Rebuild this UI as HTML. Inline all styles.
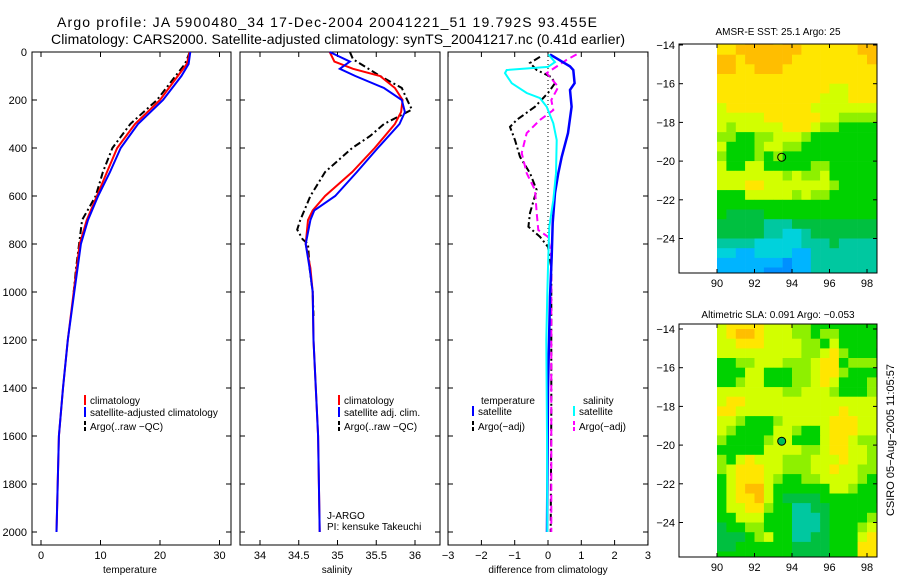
<!DOCTYPE html>
<html><head><meta charset="utf-8"><style>
body{margin:0;background:#fff}
svg{display:block;font-family:"Liberation Sans",sans-serif}
</style></head><body>
<svg id="s" width="900" height="580" xmlns="http://www.w3.org/2000/svg">
<text x="57" y="27" font-size="14" textLength="540">Argo profile: JA 5900480_34 17-Dec-2004 20041221_51 19.792S 93.455E</text>
<text x="51" y="44" font-size="14" textLength="574">Climatology: CARS2000. Satellite-adjusted climatology: synTS_20041217.nc (0.41d earlier)</text>
<text x="130" y="573" font-size="10" text-anchor="middle">temperature</text>
<text x="337" y="573" font-size="10" text-anchor="middle">salinity</text>
<text x="548" y="573" font-size="10" text-anchor="middle">difference from climatology</text>
<text x="327" y="519" font-size="10">J-ARGO</text>
<text x="327" y="530" font-size="10">PI: kensuke Takeuchi</text>
<text x="778" y="35" font-size="10" text-anchor="middle">AMSR-E SST: 25.1 Argo: 25</text>
<text x="778" y="318" font-size="10" text-anchor="middle">Altimetric SLA: 0.091 Argo: −0.053</text>
<text transform="translate(894,440) rotate(-90)" font-size="11" text-anchor="middle">CSIRO 05−Aug−2005 11:05:57</text>
</svg>
<script>
// ---- data ----
const tDepth=[0,50,100,200,300,400,500,600,700,800,1000,1200,1400,1600,1800,2000];
const tClim=[25.0,24.5,23.0,20.0,15.8,12.8,11.1,9.4,7.7,6.5,5.5,4.5,3.7,3.0,2.8,2.6];
const tSat=[25.1,24.8,23.6,20.5,16.3,13.4,11.6,9.6,7.9,6.7,5.6,4.5,3.7,3.0,2.8,2.6];
const aDepth=[0,50,100,200,300,400,500,600,700,800,900,1000];
const tArgo=[25.0,24.2,22.6,19.5,15.0,12.0,10.4,9.2,6.9,6.4,5.9,5.5];
const sDepth=[0,40,70,100,150,200,250,300,400,500,600,660,700,800,900,1000,1200,1400,1600,1800,2000];
const sClim=[34.9,34.96,35.2,35.55,35.74,35.84,35.82,35.74,35.48,35.19,34.84,34.68,34.62,34.59,34.65,34.68,34.69,34.72,34.75,34.76,34.77];
const sSat=[34.9,35.16,35.03,35.23,35.6,35.83,35.87,35.8,35.52,35.25,34.97,34.7,34.65,34.59,34.64,34.68,34.69,34.72,34.75,34.76,34.77];
const saDepth=[0,30,100,150,200,240,300,350,400,500,600,700,740,780,800,900,1000,1100];
const sArgo=[35.16,35.2,35.55,35.83,35.9,35.96,35.6,35.42,35.19,34.84,34.65,34.52,34.48,34.55,34.62,34.64,34.68,34.69];
const dDepth=[10,60,75,130,158,228,338,437,505,588,712,853,1020,1400,2000];
const dTempSat=[0.06,0.66,0.76,0.8,0.66,0.71,0.6,0.41,0.31,0.21,0.14,0.11,0.06,0.0,-0.03];
const dcDepth=[10,42,62,75,88,130,171,192,228,297,367,505,617,728,853,1005,1200,1600,2000];
const dSalSat=[0.01,0.21,0.0,-1.24,-1.29,-1.09,-0.64,-0.24,-0.04,0.16,0.26,0.24,0.16,0.04,0.01,-0.02,-0.05,-0.03,-0.02];
const dmDepth=[10,33,88,146,200,242,283,338,421,505,575,671,742,770,853,1020,1500,2000];
const dSalArgo=[0.86,0.56,-0.04,0.31,0.1,0.16,-0.24,-0.64,-0.79,-0.64,-0.39,-0.34,-0.29,0.0,0.1,0.1,0.1,0.1];
const dkDepth=[20,46,75,104,130,171,228,283,312,367,437,505,575,671,728,770,812,900,1500,2000];
const dTempArgo=[-0.24,-0.54,-0.34,0.1,0.21,0.0,-0.39,-0.94,-1.14,-0.99,-0.84,-0.54,-0.34,-0.54,-0.59,-0.24,0.0,0.1,0.1,0.08];
const depthTicks=[0,200,400,600,800,1000,1200,1400,1600,1800,2000];
const tTicks=[0,10,20,30];
const sTicks=[34,34.5,35,35.5,36];
const dTicks=[-3,-2,-1,0,1,2,3];
const sstGrid=["888999898888999999","889999999888888999","998999998888888899","998899988888888888","888888888888888888","888888888888778888","888888888887778888","788888888877777777","777778888887766666","767777788876655555","665566777655555555","755567766555555555","655565655555555555","755775555566555555","777777767667555555","777887777777655555","555777776766555555","555555555555555555","544445555555555554","444443334444444444","444443322344444444","333322222333433333","221122221133333333","111111101133333333","111110001133333333"];
const slaGrid=["788887776655555555","789987776656655555","778887777665755556","777777777667865555","556677766678856665","555775556678865556","556775556678755566","777777766777655567","788777777777777777","887777777777787777","776555677777888777","765555776557888777","655556775557887666","555557777667887766","657877766677787766","678887766677877666","578887655667777655","578997555555776555","578897544445555555","577886553344555556","557775553334555567","455665553334555678","444567553344555789","445555554444555889","555555554444555889"];
const lonTicks=[90,92,94,96,98];
const latTicks=[-14,-16,-18,-20,-22,-24];
const floatLon=93.45, floatLat=-19.8;

// ---- drawing ----
const svg=document.getElementById('s');
const NS='http://www.w3.org/2000/svg';
function mk(tag,at,parent){const e=document.createElementNS(NS,tag);for(const k in at)e.setAttribute(k,at[k]);(parent||svg).appendChild(e);return e;}
const Y0=52, YS=0.24, PB=545;
const yD=d=>Y0+d*YS;
const panels=[
 {name:'temperature',x0:32,x1:231,xs:v=>41+v*5.95,ticks:tTicks,lab:v=>String(v),ylab:true},
 {name:'salinity',x0:240,x1:440,xs:v=>260+(v-34)*77.5,ticks:sTicks,lab:v=>String(v),ylab:false},
 {name:'difference',x0:448,x1:648,xs:v=>548+v*33.3,ticks:dTicks,lab:v=>v<0?'−'+(-v):String(v),ylab:false}
];
panels.forEach(p=>{
 const g=mk('g',{});
 
 
 p.g=g;
 p.ticks.forEach(v=>{const x=p.xs(v);
  const t1=mk('line',{x1:x,x2:x,y1:PB,y2:PB-5,stroke:'#000'},g);
  
  mk('line',{x1:x,x2:x,y1:Y0,y2:Y0+5,stroke:'#000'},g);
  const t=mk('text',{x:x,y:PB+14,'font-size':11,'text-anchor':'middle'},g);t.textContent=p.lab(v);
  });
 depthTicks.forEach(d=>{const y=yD(d);
  mk('line',{x1:p.x0,x2:p.x0+5,y1:y,y2:y,stroke:'#000'},g);
  mk('line',{x1:p.x1,x2:p.x1-5,y1:y,y2:y,stroke:'#000'},g);
  if(p.ylab){const t=mk('text',{x:p.x0-5,y:y+4,'font-size':11,'text-anchor':'end'},g);t.textContent=d;
   }});
 const f=mk('rect',{x:p.x0,y:Y0,width:p.x1-p.x0,height:PB-Y0,fill:'none',stroke:'#000','stroke-width':1},g);
 
});
function line(p,xs,ds,color,dash,name,w){
 const pts=xs.map((v,i)=>p.xs(v).toFixed(1)+','+yD(ds[i]).toFixed(1)).join(' ');
 const e=mk('polyline',{points:pts,fill:'none',stroke:color,'stroke-width':w||2,'stroke-dasharray':dash||'none'},p.g);
 
}
const DASH='7,3,2,3';
line(panels[0],tArgo,aDepth,'#000',DASH,'temp-argo-line');
line(panels[0],tClim,tDepth,'#f00','','temp-climatology-line');
line(panels[0],tSat,tDepth,'#00f','','temp-satellite-line');
line(panels[1],sArgo,saDepth,'#000',DASH,'sal-argo-line');
line(panels[1],sClim,sDepth,'#f00','','sal-climatology-line');
line(panels[1],sSat,sDepth,'#00f','','sal-satellite-line');
const zl=mk('line',{x1:548,x2:548,y1:Y0,y2:yD(820),stroke:'#000','stroke-dasharray':'1,3'},panels[2].g);

line(panels[2],dTempArgo,dkDepth,'#000',DASH,'diff-temp-argo-line');
line(panels[2],dSalArgo,dmDepth,'#f0f','7,4','diff-sal-argo-line');
line(panels[2],dTempSat,dDepth,'#00f','','diff-temp-satellite-line',2.5);
line(panels[2],dSalSat,dcDepth,'#0ff','','diff-sal-satellite-line');
function leg(x,y,color,dash,text,name){
 const g=mk('g',{});
 if(color)mk('line',{x1:x,x2:x,y1:y-9,y2:y+1,stroke:color,'stroke-width':2,'stroke-dasharray':dash||'none'},g);
 const t=mk('text',{x:x+5,y:y,'font-size':10},g);t.textContent=text;
}
leg(85,404,'#f00','','climatology','legend-climatology');
leg(85,416,'#00f','','satellite-adjusted climatology','legend-satellite');
leg(85,430,'#000','4,2','Argo(..raw −QC)','legend-argo');
leg(339,404,'#f00','','climatology','legend2-climatology');
leg(339,416,'#00f','','satellite adj. clim.','legend2-satellite');
leg(339,430,'#000','4,2','Argo(..raw −QC)','legend2-argo');
leg(476,404,null,'','temperature','legend3-temperature-head');
leg(473,415,'#00f','','satellite','legend3-temp-satellite');
leg(473,430,'#000','4,2','Argo(−adj)','legend3-temp-argo');
leg(578,404,null,'','salinity','legend3-salinity-head');
leg(574,415,'#0ff','','satellite','legend3-sal-satellite');
leg(574,430,'#f0f','4,2','Argo(−adj)','legend3-sal-argo');
const cmap=['#0090ff','#00b4ff','#00d2dc','#00c8a0','#00c040','#00d200','#8ef000','#d2ff00','#ffe600','#ffbe00'];
function map(name,grid,top,bot,latRef,filled){
 const x0=679,x1=877, lx=v=>717+(v-90)*18.75, ly=v=>latRef+(-14-v)*19.35;
 const g=mk('g',{});
 const cp='clip-'+name;const c=mk('clipPath',{id:cp},g);mk('rect',{x:x0,y:top,width:x1-x0,height:bot-top},c);
 const cg=mk('g',{'clip-path':'url(#'+cp+')'},g);
 grid.forEach((row,r)=>{for(let k=0;k<row.length;k++){
  const la=-13.75-r*0.5, lo=90+k*0.5;
  const cell=mk('rect',{x:lx(lo).toFixed(1),y:ly(la+0.25).toFixed(1),width:9.6,height:10,fill:cmap[+row[k]]},cg);
  }});
 lonTicks.forEach(v=>{const x=lx(v);mk('line',{x1:x,x2:x,y1:bot,y2:bot-4,stroke:'#000'},g);mk('line',{x1:x,x2:x,y1:top,y2:top+4,stroke:'#000'},g);
  const t=mk('text',{x:x,y:bot+14,'font-size':11,'text-anchor':'middle'},g);t.textContent=v;
  });
 latTicks.forEach(v=>{const y=ly(v);mk('line',{x1:x0,x2:x0+4,y1:y,y2:y,stroke:'#000'},g);mk('line',{x1:x1,x2:x1-4,y1:y,y2:y,stroke:'#000'},g);
  const t=mk('text',{x:x0-4,y:y+4,'font-size':11,'text-anchor':'end'},g);t.textContent='−'+(-v);
  });
 mk('rect',{x:x0,y:top,width:x1-x0,height:bot-top,fill:'none',stroke:'#000'},g);
 const m=mk('circle',{cx:lx(floatLon),cy:ly(floatLat),r:4,fill:filled?'#00be5a':'none',stroke:'#000'},g);
 
}
map('sst-map',sstGrid,44,273,45,false);
map('sla-map',slaGrid,324,557,329,true);
</script>
</body></html>
